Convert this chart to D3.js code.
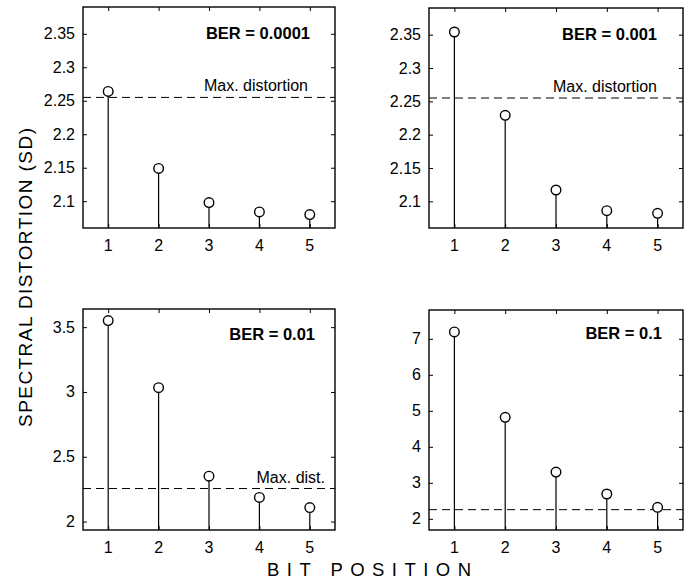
<!DOCTYPE html>
<html>
<head>
<meta charset="utf-8">
<script src="https://cdn.jsdelivr.net/npm/d3@7"></script>
<style>
  html, body { margin: 0; padding: 0; background: #fff; }
  svg { display: block; font-family: "Liberation Sans", Arial, Helvetica, sans-serif; }
</style>
</head>
<body>
<svg id="chart" width="691" height="579"></svg>
<script>
// Spectral distortion per bit position for four bit-error rates
const bitPositions = [1, 2, 3, 4, 5];
const berLabels = ["BER = 0.0001", "BER = 0.001", "BER = 0.01", "BER = 0.1"];
const sdBer0001 = [2.264, 2.149, 2.098, 2.084, 2.080];
const sdBer001  = [2.354, 2.229, 2.117, 2.086, 2.082];
const sdBer01   = [3.551, 3.033, 2.350, 2.186, 2.108];
const sdBer1    = [7.19, 4.82, 3.30, 2.69, 2.32];
const maxDistortion = 2.255;
const maxLabels = ["Max. distortion", "Max. distortion", "Max. dist.", null];
const yTicksTop = [2.1, 2.15, 2.2, 2.25, 2.3, 2.35];
const yTicksBer01 = [2, 2.5, 3, 3.5];
const yTicksBer1 = [2, 3, 4, 5, 6, 7];
const yDomains = [[2.06, 2.39], [2.06, 2.39], [1.935, 3.64], [1.69, 7.8]];

const series = [sdBer0001, sdBer001, sdBer01, sdBer1];
const yTickSets = [yTicksTop, yTicksTop, yTicksBer01, yTicksBer1];

// panel frames and text placement
const panels = [
  { x: 83,  y: 7,   w: 252, h: 221, titleInset: 25, titleDy: 32, maxInset: 27 },
  { x: 429, y: 8,   w: 254, h: 220, titleInset: 26, titleDy: 32, maxInset: 26 },
  { x: 83,  y: 309, w: 252, h: 221, titleInset: 20, titleDy: 31, maxInset: 10 },
  { x: 429, y: 310, w: 254, h: 220, titleInset: 21, titleDy: 29, maxInset: 0 }
];

const svg = d3.select("#chart");

panels.forEach((p, i) => {
  const g = svg.append("g").attr("transform", `translate(${p.x},${p.y})`);
  const x = d3.scaleLinear().domain([0.5, 5.5]).range([0, p.w]);
  const y = d3.scaleLinear().domain(yDomains[i]).range([p.h, 0]);
  const fmt = d3.format("");

  // inward ticks on all four sides
  const axes = [
    { axis: d3.axisBottom(x).tickValues(bitPositions).tickFormat(""), t: `translate(0,${p.h})` },
    { axis: d3.axisTop(x).tickValues(bitPositions).tickFormat(""), t: `translate(0,0)` },
    { axis: d3.axisLeft(y).tickValues(yTickSets[i]).tickFormat(""), t: `translate(0,0)` },
    { axis: d3.axisRight(y).tickValues(yTickSets[i]).tickFormat(""), t: `translate(${p.w},0)` }
  ];
  axes.forEach(a => {
    const ag = g.append("g").attr("transform", a.t)
      .call(a.axis.tickSizeInner(-4).tickSizeOuter(0));
    ag.select(".domain").remove();
    ag.selectAll(".tick line").attr("stroke", "#000").attr("stroke-width", 1);
  });

  // tick labels
  g.append("g").selectAll("text").data(bitPositions).join("text")
    .attr("x", d => x(d)).attr("y", p.h + 23)
    .attr("text-anchor", "middle").attr("font-size", 16).text(d => d);
  g.append("g").selectAll("text").data(yTickSets[i]).join("text")
    .attr("x", -8).attr("y", d => y(d) + 5.5)
    .attr("text-anchor", "end").attr("font-size", 16).text(d => fmt(d));

  // maximum-distortion threshold
  g.append("line")
    .attr("x1", 0).attr("x2", p.w)
    .attr("y1", y(maxDistortion)).attr("y2", y(maxDistortion))
    .attr("stroke", "#000").attr("stroke-width", 1)
    .attr("stroke-dasharray", "8,5");
  if (maxLabels[i]) {
    g.append("text")
      .attr("x", p.w - p.maxInset).attr("y", y(maxDistortion) - 6)
      .attr("text-anchor", "end").attr("font-size", 16).text(maxLabels[i]);
  }

  // stems and markers
  const vals = series[i];
  g.append("g").selectAll("line").data(vals).join("line")
    .attr("x1", (d, k) => x(bitPositions[k])).attr("x2", (d, k) => x(bitPositions[k]))
    .attr("y1", y(yDomains[i][0])).attr("y2", d => y(d))
    .attr("stroke", "#000").attr("stroke-width", 1.2);
  g.append("g").selectAll("circle").data(vals).join("circle")
    .attr("cx", (d, k) => x(bitPositions[k])).attr("cy", d => y(d))
    .attr("r", 4.8).attr("fill", "#fff").attr("stroke", "#000").attr("stroke-width", 1.4);

  // frame
  g.append("rect").attr("width", p.w).attr("height", p.h)
    .attr("fill", "none").attr("stroke", "#000").attr("stroke-width", 1.4);

  // BER title
  g.append("text")
    .attr("x", p.w - p.titleInset).attr("y", p.titleDy)
    .attr("text-anchor", "end").attr("font-size", 16.5).attr("font-weight", "bold")
    .text(berLabels[i]);
});

// shared axis titles
svg.append("text")
  .attr("transform", "translate(32,277.5) rotate(-90)")
  .attr("text-anchor", "middle").attr("font-size", 19)
  .attr("textLength", 299).attr("lengthAdjust", "spacing")
  .text("SPECTRAL  DISTORTION  (SD)");

svg.append("text")
  .attr("x", 369).attr("y", 576)
  .attr("text-anchor", "middle").attr("font-size", 18.5)
  .attr("textLength", 204).attr("lengthAdjust", "spacing")
  .text("BIT POSITION");
</script>
</body>
</html>
